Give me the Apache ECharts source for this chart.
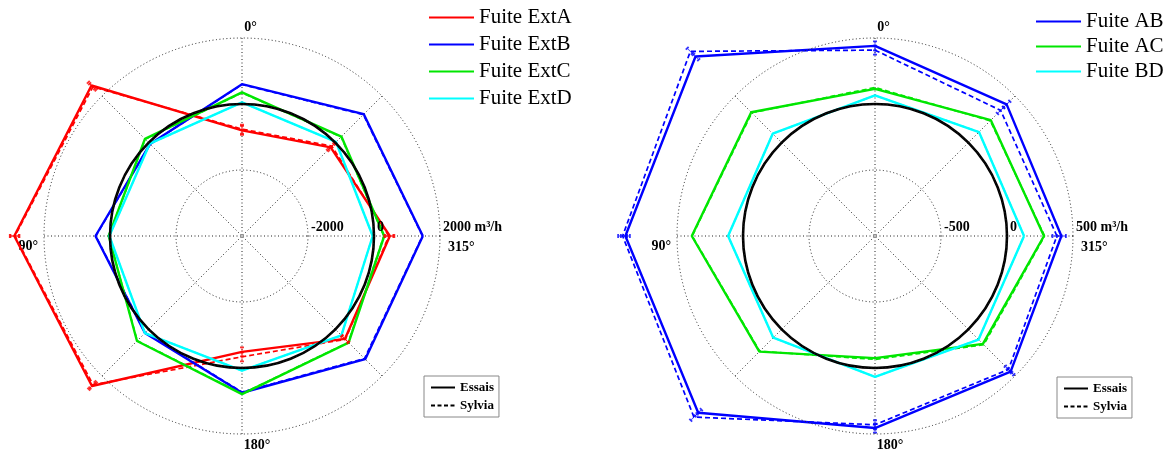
<!DOCTYPE html>
<html><head><meta charset="utf-8">
<script src="https://cdn.jsdelivr.net/npm/echarts@6/dist/echarts.min.js"></script>
<style>html,body{margin:0;padding:0;background:#fff}#c{width:1168px;height:449px}</style>
</head><body><div id="c"></div>
<script>
// screen angle of each spoke, counter-clockwise from the right-hand spoke
const directions = [0, 45, 90, 135, 180, 225, 270, 315];
const angleTickLabels = ['315°', '', '0°', '', '90°', '', '180°', ''];
const leftRadialTicks = ['', '-2000', '0', '2000 m³/h'];
const rightRadialTicks = ['', '-500', '0', '500 m³/h'];
const leftRange = [-4000, 2000, 2000];   // min, max (outer grid circle), interval
const rightRange = [-1000, 500, 500];
const leftDataMax = 3500;                // room for points beyond the outer grid circle
const rightDataMax = 1000;

// Left chart (values along directions)
const extA_essais = [480, -200, -800, 2450, 2900, 2430, -490, 410];
const extA_sylvia = [450, -150, -760, 2390, 2880, 2380, -340, 430];
const extB_essais = [1480, 1220, 600, -60, 440, 160, 750, 1280];
const extB_sylvia = [1470, 1200, 590, -60, 430, 150, 730, 1250];
const extC_essais = [310, 260, 350, 160, 40, 500, 790, 570];
const extC_sylvia = [300, 250, 340, 150, 40, 490, 780, 560];
const extD_essais = [-40, 30, 50, -45, 20, 160, 80, 260];
const extD_sylvia = [-40, 30, 50, -45, 20, 160, 80, 260];

// Right chart
const ab_essais = [412, 410, 440, 923, 891, 894, 455, 453];
const ab_sylvia = [378, 346, 408, 978, 912, 940, 430, 430];
const ac_essais = [280, 241, 115, 326, 388, 239, -75, 156];
const ac_sylvia = [285, 235, 125, 320, 385, 235, -65, 165];
const bd_essais = [129, 114, 65, 96, 113, 90, 67, 109];
const bd_sylvia = [129, 114, 65, 96, 113, 90, 67, 109];

const RED = '#ff0000', BLUE = '#0000ff', GREEN = '#00e600', CYAN = '#00ffff';
const R = 198;
const leftCenter = [242, 236], rightCenter = [875, 236];
const FONT = 'Liberation Serif';
const errPath = 'path://M0,0 L6,0 M3,0 L3,12 M0,12 L6,12';
const LEFT_DATA = 4, RIGHT_DATA = 5;

function closed(values) {
  const d = values.map((v, i) => [v, directions[i]]);
  d.push([values[0], 360]);
  return d;
}
function line(name, values, color, dashed, polarIndex) {
  return {
    type: 'line', name, coordinateSystem: 'polar', polarIndex,
    data: closed(values), symbol: 'none', clip: false, animation: false, silent: true,
    lineStyle: { color, width: dashed ? 1.7 : 2.4, type: dashed ? [5, 3] : 'solid' },
    itemStyle: { color }, z: dashed ? 3 : 4
  };
}
function errBars(name, values, color, polarIndex) {
  return {
    type: 'scatter', name, coordinateSystem: 'polar', polarIndex,
    data: values.map((v, i) => [v, directions[i]]),
    symbol: errPath, symbolSize: [4, 9],
    symbolRotate: function (value) { return value[1] - 90; },
    clip: false, animation: false, silent: true,
    itemStyle: { color: 'transparent', borderColor: color, borderWidth: 1.2 }, z: 5
  };
}
function radiusFor(range, value) { return R * (value - range[0]) / (range[1] - range[0]); }

const labelFont = { fontFamily: FONT, fontWeight: 'bold', fontSize: 14, color: '#000' };
const dotted = { color: '#222', width: 1, type: [1, 2.5] };

function gridAngleAxis(polarIndex) {
  return {
    polarIndex, type: 'value', min: 0, max: 360, interval: 45, startAngle: 0, clockwise: false,
    axisLine: { show: false }, axisTick: { show: false },
    splitLine: { show: true, lineStyle: dotted },
    axisLabel: {
      show: true, margin: 4, ...labelFont,
      formatter: function (v) {
        const t = angleTickLabels[Math.round(v / 45) % 8];
        if (!t) return '';
        const key = { 0: 'r', 90: 't', 180: 'l', 270: 'b' }[v];
        return '{' + key + '|' + t + '}';
      },
      rich: {
        t: { ...labelFont, padding: [0, 0, 0, 17] },
        b: { ...labelFont, padding: [0, 0, 0, 30] },
        r: { ...labelFont, padding: [22, 0, 0, 4] },
        l: { ...labelFont, padding: [21, 2, 0, 0] }
      }
    }
  };
}
function gridRadiusAxis(polarIndex, range, ticks) {
  return {
    polarIndex, type: 'value', min: range[0], max: range[1], interval: range[2], z: 10,
    axisLine: { show: false }, axisTick: { show: false },
    splitLine: { show: true, lineStyle: dotted },
    axisLabel: {
      show: true, showMinLabel: true, showMaxLabel: true, margin: 2, ...labelFont,
      align: 'left', verticalAlign: 'bottom', padding: [0, 0, 0, 3],
      formatter: function (v) { return ticks[Math.round((v - range[0]) / range[2])] || ''; }
    }
  };
}
function plainAngleAxis(polarIndex, showCircle) {
  return {
    polarIndex, type: 'value', min: 0, max: 360, startAngle: 0, clockwise: false, z: 6,
    axisLine: { show: showCircle, lineStyle: { color: '#000', width: 2.6 } },
    axisTick: { show: false }, axisLabel: { show: false }, splitLine: { show: false }
  };
}
function plainRadiusAxis(polarIndex, min, max) {
  return { polarIndex, type: 'value', min, max,
           axisLine: { show: false }, axisTick: { show: false }, axisLabel: { show: false }, splitLine: { show: false } };
}

const legendHide = { color: 'rgba(0,0,0,0)', borderColor: 'rgba(0,0,0,0)', borderWidth: 0 };
const mainLegendText = { fontFamily: FONT, fontSize: 21, color: '#000', lineHeight: 21 };
const boxLegendText = { fontFamily: FONT, fontWeight: 'bold', fontSize: 13, color: '#000', lineHeight: 15 };

const option = {
  backgroundColor: '#fff',
  animation: false,
  polar: [
    { center: leftCenter, radius: R },
    { center: rightCenter, radius: R },
    { center: leftCenter, radius: radiusFor(leftRange, 0) },
    { center: rightCenter, radius: radiusFor(rightRange, 0) },
    { center: leftCenter, radius: radiusFor(leftRange, leftDataMax) },
    { center: rightCenter, radius: radiusFor(rightRange, rightDataMax) }
  ],
  angleAxis: [gridAngleAxis(0), gridAngleAxis(1), plainAngleAxis(2, true), plainAngleAxis(3, true),
              plainAngleAxis(4, false), plainAngleAxis(5, false)],
  radiusAxis: [gridRadiusAxis(0, leftRange, leftRadialTicks), gridRadiusAxis(1, rightRange, rightRadialTicks),
               plainRadiusAxis(2, 0, 1), plainRadiusAxis(3, 0, 1),
               plainRadiusAxis(4, leftRange[0], leftDataMax), plainRadiusAxis(5, rightRange[0], rightDataMax)],
  legend: [
    { data: ['Fuite ExtA', 'Fuite ExtB', 'Fuite ExtC', 'Fuite ExtD'], orient: 'vertical',
      left: 428, top: 7, itemWidth: 45, itemHeight: 14, itemGap: 6, padding: 0,
      selectedMode: false, textStyle: mainLegendText, itemStyle: legendHide },
    { data: ['Fuite AB', 'Fuite AC', 'Fuite BD'], orient: 'vertical',
      left: 1035, top: 11, itemWidth: 45, itemHeight: 14, itemGap: 4, padding: 0,
      selectedMode: false, textStyle: mainLegendText, itemStyle: legendHide },
    { data: ['Essais', 'Sylvia'], orient: 'vertical', left: 424, top: 376,
      itemWidth: 24, itemHeight: 10, itemGap: 3, padding: [4, 5, 4, 6],
      borderColor: '#888', borderWidth: 1, selectedMode: false, textStyle: boxLegendText, itemStyle: legendHide },
    { data: ['Essais', 'Sylvia'], orient: 'vertical', left: 1057, top: 377,
      itemWidth: 24, itemHeight: 10, itemGap: 3, padding: [4, 5, 4, 6],
      borderColor: '#888', borderWidth: 1, selectedMode: false, textStyle: boxLegendText, itemStyle: legendHide }
  ],
  series: [
    line('Fuite ExtA', extA_essais, RED, false, LEFT_DATA),
    line('Fuite ExtA Sylvia', extA_sylvia, RED, true, LEFT_DATA),
    line('Fuite ExtB', extB_essais, BLUE, false, LEFT_DATA),
    line('Fuite ExtB Sylvia', extB_sylvia, BLUE, true, LEFT_DATA),
    line('Fuite ExtC', extC_essais, GREEN, false, LEFT_DATA),
    line('Fuite ExtC Sylvia', extC_sylvia, GREEN, true, LEFT_DATA),
    line('Fuite ExtD', extD_essais, CYAN, false, LEFT_DATA),
    line('Fuite ExtD Sylvia', extD_sylvia, CYAN, true, LEFT_DATA),
    errBars('Fuite ExtA err', extA_essais, RED, LEFT_DATA),
    errBars('Fuite ExtA Sylvia err', extA_sylvia, RED, LEFT_DATA),
    line('Fuite AB', ab_essais, BLUE, false, RIGHT_DATA),
    line('Fuite AB Sylvia', ab_sylvia, BLUE, true, RIGHT_DATA),
    line('Fuite AC', ac_essais, GREEN, false, RIGHT_DATA),
    line('Fuite AC Sylvia', ac_sylvia, GREEN, true, RIGHT_DATA),
    line('Fuite BD', bd_essais, CYAN, false, RIGHT_DATA),
    line('Fuite BD Sylvia', bd_sylvia, CYAN, true, RIGHT_DATA),
    errBars('Fuite AB err', ab_essais, BLUE, RIGHT_DATA),
    errBars('Fuite AB Sylvia err', ab_sylvia, BLUE, RIGHT_DATA),
    { type: 'line', name: 'Essais', coordinateSystem: 'polar', polarIndex: LEFT_DATA, data: [], symbol: 'none',
      lineStyle: { color: '#000', width: 1.4, type: 'solid' }, itemStyle: { color: '#000' } },
    { type: 'line', name: 'Sylvia', coordinateSystem: 'polar', polarIndex: LEFT_DATA, data: [], symbol: 'none',
      lineStyle: { color: '#000', width: 1.4, type: [4, 2.5] }, itemStyle: { color: '#000' } }
  ]
};
const chart = echarts.init(document.getElementById('c'), null, { renderer: 'canvas' });
chart.setOption(option);
</script></body></html>
